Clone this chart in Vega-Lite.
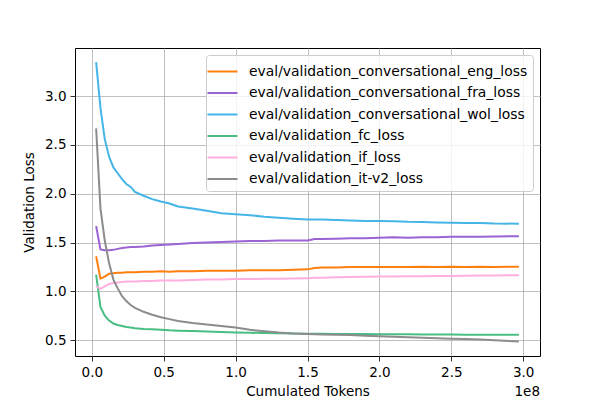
{
  "$schema": "https://vega.github.io/schema/vega-lite/v6.json",
  "width": 465,
  "height": 308,
  "autosize": {"type": "none"},
  "padding": {"left": 75, "top": 48, "right": 60, "bottom": 44},
  "background": "white",
  "config": {
    "font": "DejaVu Sans",
    "view": {"stroke": "black", "strokeWidth": 1},
    "axis": {
      "gridColor": "#b0b0b0", "gridWidth": 0.8, "gridOpacity": 1,
      "domain": false, "tickColor": "black", "tickSize": 5, "tickWidth": 0.8,
      "labelFontSize": 13.5, "labelColor": "black", "labelPadding": 4,
      "titleFontSize": 13.5, "titleFontWeight": "normal", "titleColor": "black"
    }
  },
  "title": {"text": "1e8", "orient": "bottom", "anchor": "end", "fontSize": 13.5, "fontWeight": "normal", "color": "black", "offset": -13},
  "data": {"values": [
    {"x": 3000000, "eng": 1.36, "fra": 1.67, "wol": 3.35, "fc": 1.17, "if": 1.05, "itv2": 2.67},
    {"x": 6000000, "eng": 1.13, "fra": 1.43, "wol": 2.88, "fc": 0.84, "if": 1.025, "itv2": 1.85},
    {"x": 9000000, "eng": 1.15, "fra": 1.42, "wol": 2.56, "fc": 0.75, "if": 1.05, "itv2": 1.52},
    {"x": 12000000, "eng": 1.18, "fra": 1.42, "wol": 2.38, "fc": 0.70, "if": 1.075, "itv2": 1.29},
    {"x": 15000000, "eng": 1.185, "fra": 1.425, "wol": 2.27, "fc": 0.67, "if": 1.085, "itv2": 1.12},
    {"x": 18000000, "eng": 1.19, "fra": 1.435, "wol": 2.21, "fc": 0.655, "if": 1.09, "itv2": 1.03},
    {"x": 21000000, "eng": 1.19, "fra": 1.445, "wol": 2.15, "fc": 0.645, "if": 1.095, "itv2": 0.95},
    {"x": 24000000, "eng": 1.195, "fra": 1.45, "wol": 2.10, "fc": 0.635, "if": 1.10, "itv2": 0.90},
    {"x": 27000000, "eng": 1.195, "fra": 1.455, "wol": 2.07, "fc": 0.628, "if": 1.10, "itv2": 0.86},
    {"x": 30000000, "eng": 1.195, "fra": 1.455, "wol": 2.02, "fc": 0.622, "if": 1.10, "itv2": 0.83},
    {"x": 36000000, "eng": 1.20, "fra": 1.46, "wol": 1.98, "fc": 0.615, "if": 1.105, "itv2": 0.79},
    {"x": 42000000, "eng": 1.20, "fra": 1.47, "wol": 1.945, "fc": 0.61, "if": 1.105, "itv2": 0.76},
    {"x": 48000000, "eng": 1.205, "fra": 1.475, "wol": 1.92, "fc": 0.605, "if": 1.11, "itv2": 0.735},
    {"x": 54000000, "eng": 1.20, "fra": 1.48, "wol": 1.90, "fc": 0.60, "if": 1.11, "itv2": 0.715},
    {"x": 60000000, "eng": 1.205, "fra": 1.485, "wol": 1.87, "fc": 0.597, "if": 1.11, "itv2": 0.695},
    {"x": 70000000, "eng": 1.205, "fra": 1.495, "wol": 1.85, "fc": 0.592, "if": 1.115, "itv2": 0.675},
    {"x": 80000000, "eng": 1.21, "fra": 1.50, "wol": 1.825, "fc": 0.587, "if": 1.12, "itv2": 0.66},
    {"x": 90000000, "eng": 1.21, "fra": 1.505, "wol": 1.80, "fc": 0.583, "if": 1.12, "itv2": 0.645},
    {"x": 100000000, "eng": 1.21, "fra": 1.51, "wol": 1.79, "fc": 0.578, "if": 1.125, "itv2": 0.63},
    {"x": 110000000, "eng": 1.215, "fra": 1.515, "wol": 1.78, "fc": 0.575, "if": 1.125, "itv2": 0.605},
    {"x": 120000000, "eng": 1.215, "fra": 1.515, "wol": 1.765, "fc": 0.572, "if": 1.13, "itv2": 0.59},
    {"x": 130000000, "eng": 1.215, "fra": 1.52, "wol": 1.755, "fc": 0.57, "if": 1.13, "itv2": 0.577},
    {"x": 140000000, "eng": 1.22, "fra": 1.52, "wol": 1.745, "fc": 0.567, "if": 1.132, "itv2": 0.568},
    {"x": 150000000, "eng": 1.225, "fra": 1.52, "wol": 1.737, "fc": 0.565, "if": 1.135, "itv2": 0.563},
    {"x": 155000000, "eng": 1.24, "fra": 1.535, "wol": 1.737, "fc": 0.565, "if": 1.138, "itv2": 0.56},
    {"x": 160000000, "eng": 1.243, "fra": 1.535, "wol": 1.735, "fc": 0.565, "if": 1.14, "itv2": 0.558},
    {"x": 170000000, "eng": 1.245, "fra": 1.54, "wol": 1.73, "fc": 0.563, "if": 1.145, "itv2": 0.556},
    {"x": 180000000, "eng": 1.248, "fra": 1.545, "wol": 1.725, "fc": 0.562, "if": 1.148, "itv2": 0.552},
    {"x": 190000000, "eng": 1.25, "fra": 1.545, "wol": 1.72, "fc": 0.562, "if": 1.15, "itv2": 0.545},
    {"x": 200000000, "eng": 1.25, "fra": 1.55, "wol": 1.72, "fc": 0.56, "if": 1.152, "itv2": 0.54},
    {"x": 210000000, "eng": 1.25, "fra": 1.555, "wol": 1.718, "fc": 0.56, "if": 1.153, "itv2": 0.535},
    {"x": 220000000, "eng": 1.25, "fra": 1.55, "wol": 1.712, "fc": 0.56, "if": 1.155, "itv2": 0.53},
    {"x": 230000000, "eng": 1.252, "fra": 1.555, "wol": 1.71, "fc": 0.558, "if": 1.155, "itv2": 0.525},
    {"x": 240000000, "eng": 1.25, "fra": 1.555, "wol": 1.705, "fc": 0.558, "if": 1.157, "itv2": 0.52},
    {"x": 250000000, "eng": 1.252, "fra": 1.56, "wol": 1.703, "fc": 0.557, "if": 1.158, "itv2": 0.515},
    {"x": 260000000, "eng": 1.25, "fra": 1.56, "wol": 1.70, "fc": 0.556, "if": 1.16, "itv2": 0.51},
    {"x": 270000000, "eng": 1.252, "fra": 1.56, "wol": 1.70, "fc": 0.556, "if": 1.162, "itv2": 0.505},
    {"x": 280000000, "eng": 1.25, "fra": 1.562, "wol": 1.695, "fc": 0.555, "if": 1.163, "itv2": 0.498},
    {"x": 297000000, "eng": 1.252, "fra": 1.565, "wol": 1.693, "fc": 0.555, "if": 1.165, "itv2": 0.485}
  ]},
  "transform": [
    {"fold": ["eng", "fra", "wol", "fc", "if", "itv2"], "as": ["key", "loss"]},
    {"lookup": "key", "from": {"data": {"values": [
      {"key": "eng", "series": "eval/validation_conversational_eng_loss"},
      {"key": "fra", "series": "eval/validation_conversational_fra_loss"},
      {"key": "wol", "series": "eval/validation_conversational_wol_loss"},
      {"key": "fc", "series": "eval/validation_fc_loss"},
      {"key": "if", "series": "eval/validation_if_loss"},
      {"key": "itv2", "series": "eval/validation_it-v2_loss"}
    ]}, "key": "key", "fields": ["series"]}}
  ],
  "mark": {"type": "line", "strokeWidth": 2, "clip": true},
  "encoding": {
    "x": {
      "field": "x", "type": "quantitative",
      "scale": {"domain": [-11700000, 311700000], "nice": false, "zero": false},
      "axis": {"values": [0, 50000000, 100000000, 150000000, 200000000, 250000000, 300000000],
               "labelExpr": "format(datum.value / 1e8, '.1f')", "title": "Cumulated Tokens", "titlePadding": 6}
    },
    "y": {
      "field": "loss", "type": "quantitative",
      "scale": {"domain": [0.337, 3.494], "nice": false, "zero": false},
      "axis": {"values": [0.5, 1.0, 1.5, 2.0, 2.5, 3.0], "format": ".1f", "title": "Validation Loss", "titlePadding": 8}
    },
    "color": {
      "field": "series", "type": "nominal",
      "scale": {
        "domain": ["eval/validation_conversational_eng_loss", "eval/validation_conversational_fra_loss", "eval/validation_conversational_wol_loss", "eval/validation_fc_loss", "eval/validation_if_loss", "eval/validation_it-v2_loss"],
        "range": ["#ff7f0e", "#9b63d3", "#45b5e8", "#48bd84", "#ffb0e0", "#8c8c8c"]
      },
      "legend": {
        "title": null, "orient": "top-right", "offset": 7,
        "symbolType": "M-1.43,0H1.43", "symbolSize": 441, "symbolStrokeWidth": 2,
        "labelFontSize": 13.9, "labelColor": "black", "labelOffset": 15, "labelLimit": 400,
        "rowPadding": 2.5, "padding": 5,
        "fillColor": "rgba(255,255,255,0.8)", "strokeColor": "#cccccc", "cornerRadius": 3
      }
    }
  }
}
